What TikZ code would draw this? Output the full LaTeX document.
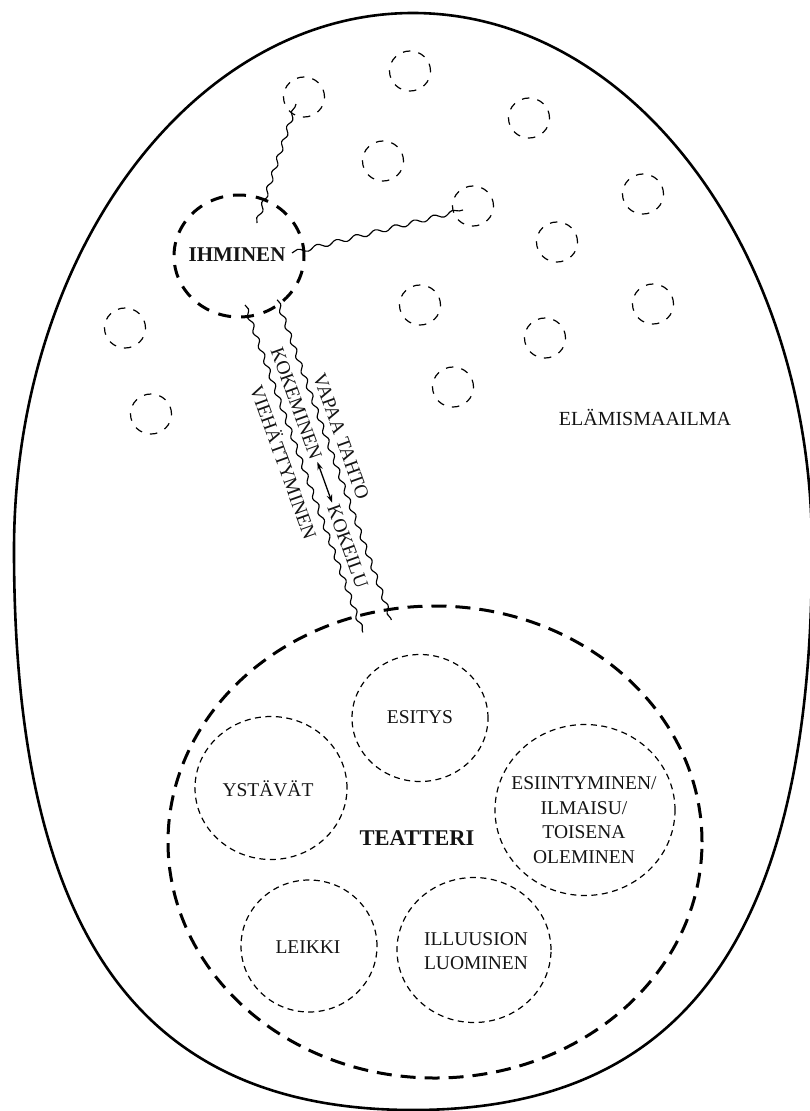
\documentclass[tikz,border=0pt]{standalone}
\usepackage{fontspec}
\setmainfont{Liberation Serif}
\usetikzlibrary{decorations.pathmorphing,arrows.meta,shapes.geometric}
\begin{document}
\begin{tikzpicture}[x=1pt,y=1pt,
  every node/.style={text=black!92},
  lbl/.style={font=\fontsize{19.5}{24.5}\selectfont, inner sep=2pt, align=center},
  lblb/.style={font=\fontsize{21}{24}\selectfont\bfseries, inner sep=2pt},
  world/.style={draw, ellipse, minimum width=41pt, minimum height=40pt, inner sep=0pt, line width=1.2pt, dash pattern=on 7.5pt off 8.2pt},
  part/.style={draw, ellipse, inner sep=0pt, line width=1.2pt, dash pattern=on 6pt off 4.5pt},
  bigdash/.style={draw, ellipse, inner sep=0pt, line width=3pt, dash pattern=on 14pt off 9pt},
  wavy/.style={line width=1.15pt, decorate, decoration={snake, amplitude=1.9pt, segment length=16pt}},
  wavylong/.style={line width=1.15pt, decorate, decoration={snake, amplitude=2.2pt, segment length=20pt}},
  shell/.style={line width=2.6pt},
  twoway/.style={line width=1.3pt, {Stealth[length=8pt,width=5.5pt]}-{Stealth[length=8pt,width=5.5pt]}, shorten <=1pt, shorten >=1pt}
]
\useasboundingbox (0,0) rectangle (809,-1111);

% outer life-world shell
\draw[shell] (14,-550) arc[start angle=180, end angle=0, x radius=399, y radius=537]
  .. controls (812,-935) and (685,-1110) .. (413,-1110)
  .. controls (141,-1110) and (14,-935) .. (14,-550) -- cycle;

% small world circles
\node[world] (w1) at (410,-71) {};
\node[world] (w2) at (304,-97) {};
\node[world] (w3) at (529,-118) {};
\node[world] (w4) at (383,-161) {};
\node[world] (w5) at (473,-206) {};
\node[world] (w6) at (643,-194) {};
\node[world] (w7) at (557,-242) {};
\node[world] (w8) at (420,-305) {};
\node[world] (w9) at (653,-304) {};
\node[world] (w10) at (545,-338) {};
\node[world] (w11) at (453,-387) {};
\node[world] (w12) at (125,-328) {};
\node[world] (w13) at (151,-414) {};

\node[lbl, font=\fontsize{20}{24}\selectfont] (elama) at (645,-417) {ELÄMISMAAILMA};

% IHMINEN
\node[bigdash, minimum width=130pt, minimum height=122pt, dash pattern=on 13pt off 10pt] (ihm) at (239,-256) {};
\node[lblb] (ihmtxt) at (237,-255) {IHMINEN};

% wavy links from IHMINEN
\coordinate (a0) at (257,-223);
\coordinate (a1) at (296,-104);
\draw[wavy] (a0) -- (a1);
\coordinate (b0) at (292,-253);
\coordinate (b1) at (463,-210);
\draw[wavylong] (b0) -- (b1);

% band towards TEATTERI
\begin{scope}[shift={(245,-305)}, rotate=-70.2]
  \coordinate (c0) at (0,0);
  \coordinate (c1) at (348,0);
  \coordinate (d0) at (6,32);
  \coordinate (d1) at (346,31);
  \draw[wavy] (c0) -- (c1);
  \draw[wavy] (d0) -- (d1);
  \node[lbl, transform shape] (vieh) at (161,-16) {VIEHÄTTYMINEN};
  \node[lbl, transform shape] (kokem) at (110,15) {KOKEMINEN};
  \node[lbl, transform shape] (kokei) at (262,15) {KOKEILU};
  \node[lbl, transform shape] (vapaa) at (156,46) {VAPAA TAHTO};
\end{scope}
\draw[twoway] (kokem.east) -- (kokei.west);

% TEATTERI
\node[bigdash, minimum width=534pt, minimum height=472pt, dash pattern=on 15pt off 9pt] (teat) at (435,-842) {};
\node[lblb, font=\fontsize{22.5}{26}\selectfont\bfseries] (teattxt) at (417,-838) {TEATTERI};

\node[part, minimum width=136pt, minimum height=127pt] (esitys) at (420,-718) {};
\node[lbl] (esitystxt) at (420,-717) {ESITYS};

\node[part, minimum width=152pt, minimum height=143pt] (ystavat) at (271,-788) {};
\node[lbl] (ystavattxt) at (268,-789) {YSTÄVÄT};

\node[part, minimum width=180pt, minimum height=171pt] (esiint) at (585,-810) {};
\node[lbl] (esiinttxt) at (584,-820) {ESIINTYMINEN/\\ILMAISU/\\TOISENA\\OLEMINEN};

\node[part, minimum width=136pt, minimum height=132pt] (leikki) at (309,-946) {};
\node[lbl] (leikkitxt) at (308,-947) {LEIKKI};

\node[part, minimum width=154pt, minimum height=145pt] (illuusio) at (474,-950) {};
\node[lbl] (illuusiotxt) at (476,-951) {ILLUUSION\\LUOMINEN};
\end{tikzpicture}
\end{document}
